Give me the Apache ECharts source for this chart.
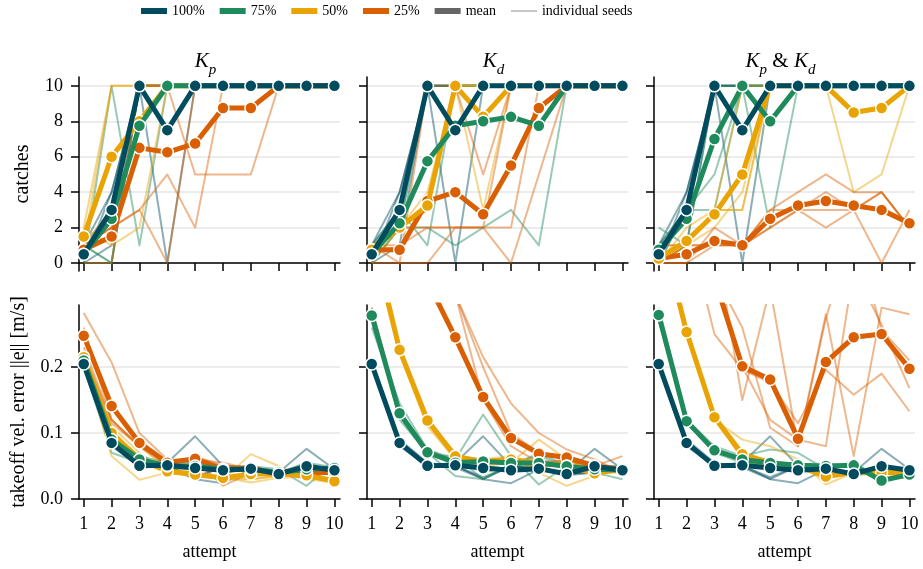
<!DOCTYPE html>
<html>
<head>
<meta charset="utf-8">
<script src="https://cdn.jsdelivr.net/npm/echarts@6/dist/echarts.min.js"></script>
<style>
  html, body { margin: 0; padding: 0; background: #fff; }
  #chart { width: 923px; height: 569px; }
</style>
</head>
<body>
<div id="chart"></div>
<script>
// catches / takeoff error per attempt, 4 seeds per condition
const attempts = [1, 2, 3, 4, 5, 6, 7, 8, 9, 10];
const levels = ['100%', '75%', '50%', '25%'];
const levelColors = ['#004b5e', '#1f8a5b', '#e9a302', '#d95f02'];
const catchTicks = [0, 2, 4, 6, 8, 10];
const errorTicks = [0, 0.1, 0.2];

// ---- catches (top row) ----
const catchMean100 = [0.5, 3.0, 10, 7.5, 10, 10, 10, 10, 10, 10];
const catchSeeds100 = [
  [0, 4, 10, 0, 10, 10, 10, 10, 10, 10],
  [1, 4, 10, 10, 10, 10, 10, 10, 10, 10],
  [1, 3, 10, 10, 10, 10, 10, 10, 10, 10],
  [0, 1, 10, 10, 10, 10, 10, 10, 10, 10]
];

const kpCatchMean75 = [0.5, 2.5, 7.75, 10, 10, 10, 10, 10, 10, 10];
const kpCatchSeeds75 = [
  [0, 10, 1, 10, 10, 10, 10, 10, 10, 10],
  [1, 0, 10, 10, 10, 10, 10, 10, 10, 10],
  [1, 0, 10, 10, 10, 10, 10, 10, 10, 10],
  [0, 0, 10, 10, 10, 10, 10, 10, 10, 10]
];
const kpCatchMean50 = [1.5, 6.0, 8.0, 10, 10, 10, 10, 10, 10, 10];
const kpCatchSeeds50 = [
  [1, 10, 10, 10, 10, 10, 10, 10, 10, 10],
  [2, 10, 10, 10, 10, 10, 10, 10, 10, 10],
  [2, 1, 2, 10, 10, 10, 10, 10, 10, 10],
  [1, 3, 10, 10, 10, 10, 10, 10, 10, 10]
];
const kpCatchMean25 = [0.75, 1.5, 6.5, 6.25, 6.75, 8.75, 8.75, 10, 10, 10];
const kpCatchSeeds25 = [
  [1, 2, 3, 5, 2, 10, 10, 10, 10, 10],
  [0, 0, 10, 10, 5, 5, 5, 10, 10, 10],
  [1, 2, 10, 10, 10, 10, 10, 10, 10, 10],
  [1, 2, 3, 0, 10, 10, 10, 10, 10, 10]
];

const kdCatchMean75 = [0.5, 2.25, 5.75, 7.75, 8.0, 8.25, 7.75, 10, 10, 10];
const kdCatchSeeds75 = [
  [1, 3, 1, 10, 10, 10, 10, 10, 10, 10],
  [1, 2, 2, 1, 2, 3, 1, 10, 10, 10],
  [0, 2, 10, 10, 10, 10, 10, 10, 10, 10],
  [0, 2, 10, 10, 10, 10, 10, 10, 10, 10]
];
const kdCatchMean50 = [0.75, 2.0, 3.25, 10, 8.25, 10, 10, 10, 10, 10];
const kdCatchSeeds50 = [
  [1, 2, 3, 10, 10, 10, 10, 10, 10, 10],
  [1, 2, 3, 10, 3, 10, 10, 10, 10, 10],
  [1, 2, 3, 10, 10, 10, 10, 10, 10, 10],
  [0, 2, 4, 10, 10, 10, 10, 10, 10, 10]
];
const kdCatchMean25 = [0.75, 0.75, 3.5, 4.0, 2.75, 5.5, 8.75, 10, 10, 10];
const kdCatchSeeds25 = [
  [1, 0, 0, 2, 2, 2, 10, 10, 10, 10],
  [1, 1, 2, 2, 2, 10, 10, 10, 10, 10],
  [1, 2, 2, 2, 2, 0, 5, 10, 10, 10],
  [0, 0, 10, 10, 5, 10, 10, 10, 10, 10]
];

const kpkdCatchMean75 = [0.75, 2.5, 7.0, 10, 8.0, 10, 10, 10, 10, 10];
const kpkdCatchSeeds75 = [
  [2, 1, 10, 10, 10, 10, 10, 10, 10, 10],
  [0, 3, 5, 10, 2, 10, 10, 10, 10, 10],
  [1, 3, 3, 10, 10, 10, 10, 10, 10, 10],
  [0, 3, 10, 10, 10, 10, 10, 10, 10, 10]
];
const kpkdCatchMean50 = [0.25, 1.25, 2.75, 5.0, 10, 10, 10, 8.5, 8.75, 10];
const kpkdCatchSeeds50 = [
  [0, 2, 3, 3, 10, 10, 10, 4, 5, 10],
  [0, 1, 2, 4, 10, 10, 10, 10, 10, 10],
  [1, 1, 3, 3, 10, 10, 10, 10, 10, 10],
  [0, 1, 3, 10, 10, 10, 10, 10, 10, 10]
];
const kpkdCatchMean25 = [0.25, 0.5, 1.25, 1.0, 2.5, 3.25, 3.5, 3.25, 3.0, 2.25];
const kpkdCatchSeeds25 = [
  [0, 0, 2, 1, 3, 4, 5, 4, 4, 2],
  [0, 1, 1, 1, 2, 3, 2, 3, 4, 2],
  [1, 1, 1, 1, 3, 3, 4, 3, 4, 2],
  [0, 0, 1, 1, 2, 3, 3, 3, 0, 3]
];

// ---- takeoff velocity error (bottom row) ----
const errMean100 = [0.2045, 0.085, 0.0505, 0.051, 0.047, 0.0435, 0.046, 0.038, 0.0495, 0.0435];
const errSeeds100 = [
  [0.21, 0.08, 0.05, 0.055, 0.095, 0.05, 0.045, 0.04, 0.076, 0.045],
  [0.2, 0.09, 0.055, 0.048, 0.03, 0.024, 0.045, 0.036, 0.04, 0.042],
  [0.205, 0.085, 0.048, 0.05, 0.033, 0.05, 0.048, 0.038, 0.042, 0.044],
  [0.203, 0.085, 0.049, 0.051, 0.03, 0.05, 0.046, 0.038, 0.04, 0.043]
];

const kpErrMean75 = [0.21, 0.09, 0.06, 0.05, 0.05, 0.045, 0.045, 0.04, 0.045, 0.047];
const kpErrSeeds75 = [
  [0.2, 0.07, 0.055, 0.045, 0.045, 0.045, 0.05, 0.045, 0.02, 0.055],
  [0.22, 0.1, 0.065, 0.055, 0.055, 0.05, 0.04, 0.04, 0.055, 0.04],
  [0.21, 0.09, 0.06, 0.05, 0.05, 0.04, 0.045, 0.038, 0.05, 0.045],
  [0.21, 0.1, 0.06, 0.05, 0.05, 0.045, 0.045, 0.037, 0.055, 0.048]
];
const kpErrMean50 = [0.215, 0.1, 0.06, 0.042, 0.037, 0.032, 0.038, 0.038, 0.036, 0.027];
const kpErrSeeds50 = [
  [0.21, 0.065, 0.029, 0.04, 0.035, 0.03, 0.068, 0.05, 0.03, 0.025],
  [0.22, 0.12, 0.08, 0.045, 0.04, 0.03, 0.03, 0.035, 0.04, 0.03],
  [0.215, 0.11, 0.07, 0.04, 0.035, 0.035, 0.03, 0.035, 0.04, 0.027],
  [0.215, 0.105, 0.06, 0.043, 0.038, 0.033, 0.025, 0.032, 0.034, 0.026]
];
const kpErrMean25 = [0.2475, 0.141, 0.085, 0.055, 0.061, 0.045, 0.045, 0.04, 0.04, 0.04];
const kpErrSeeds25 = [
  [0.282, 0.207, 0.1, 0.06, 0.06, 0.02, 0.04, 0.04, 0.03, 0.045],
  [0.26, 0.12, 0.08, 0.05, 0.065, 0.05, 0.05, 0.04, 0.045, 0.04],
  [0.23, 0.12, 0.08, 0.055, 0.06, 0.05, 0.045, 0.04, 0.045, 0.038],
  [0.22, 0.115, 0.08, 0.055, 0.06, 0.055, 0.045, 0.04, 0.04, 0.037]
];

const kdErrMean75 = [0.278, 0.13, 0.0707, 0.055, 0.057, 0.0545, 0.0545, 0.0495, 0.045, 0.044];
const kdErrSeeds75 = [
  [0.26, 0.145, 0.075, 0.06, 0.128, 0.065, 0.022, 0.05, 0.04, 0.03],
  [0.29, 0.13, 0.07, 0.035, 0.03, 0.05, 0.06, 0.05, 0.045, 0.05],
  [0.28, 0.12, 0.07, 0.06, 0.04, 0.05, 0.07, 0.05, 0.05, 0.05],
  [0.28, 0.125, 0.067, 0.065, 0.03, 0.053, 0.066, 0.048, 0.045, 0.046]
];
const kdErrMean50 = [0.4, 0.226, 0.119, 0.0646, 0.057, 0.06, 0.055, 0.05, 0.039, 0.045];
const kdErrSeeds50 = [
  [0.42, 0.23, 0.12, 0.07, 0.05, 0.055, 0.09, 0.06, 0.04, 0.04],
  [0.38, 0.22, 0.11, 0.06, 0.06, 0.065, 0.04, 0.02, 0.035, 0.05],
  [0.4, 0.23, 0.125, 0.065, 0.058, 0.06, 0.045, 0.06, 0.04, 0.045],
  [0.4, 0.224, 0.121, 0.064, 0.06, 0.06, 0.045, 0.06, 0.041, 0.045]
];
const kdErrMean25 = [0.5, 0.42, 0.33, 0.245, 0.1545, 0.0924, 0.0687, 0.063, 0.05, 0.045];
const kdErrSeeds25 = [
  [0.29, 0.13, 0.075, 0.055, 0.05, 0.045, 0.05, 0.06, 0.05, 0.065],
  [0.6, 0.5, 0.4, 0.31, 0.215, 0.145, 0.1, 0.075, 0.06, 0.04],
  [0.6, 0.5, 0.4, 0.31, 0.2, 0.1, 0.07, 0.06, 0.05, 0.04],
  [0.55, 0.5, 0.38, 0.31, 0.15, 0.08, 0.055, 0.06, 0.045, 0.04]
];

const kpkdErrMean75 = [0.279, 0.118, 0.0737, 0.06, 0.0545, 0.051, 0.05, 0.051, 0.028, 0.037];
const kpkdErrSeeds75 = [
  [0.27, 0.12, 0.08, 0.065, 0.075, 0.07, 0.045, 0.055, 0.03, 0.035],
  [0.29, 0.12, 0.075, 0.06, 0.05, 0.045, 0.05, 0.05, 0.025, 0.04],
  [0.28, 0.115, 0.07, 0.06, 0.045, 0.045, 0.052, 0.05, 0.03, 0.036],
  [0.276, 0.117, 0.07, 0.055, 0.048, 0.044, 0.053, 0.049, 0.027, 0.037]
];
const kpkdErrMean50 = [0.42, 0.253, 0.124, 0.068, 0.055, 0.05, 0.034, 0.04, 0.04, 0.04];
const kpkdErrSeeds50 = [
  [0.43, 0.26, 0.12, 0.09, 0.08, 0.06, 0.022, 0.04, 0.04, 0.03],
  [0.41, 0.25, 0.13, 0.06, 0.05, 0.045, 0.04, 0.04, 0.04, 0.045],
  [0.42, 0.25, 0.125, 0.06, 0.045, 0.045, 0.037, 0.04, 0.04, 0.042],
  [0.42, 0.252, 0.121, 0.062, 0.045, 0.05, 0.037, 0.04, 0.04, 0.043]
];
const kpkdErrMean25 = [0.55, 0.45, 0.334, 0.201, 0.181, 0.0914, 0.2076, 0.245, 0.25, 0.1975];
const kpkdErrSeeds25 = [
  [0.6, 0.5, 0.4, 0.15, 0.32, 0.08, 0.28, 0.065, 0.29, 0.28],
  [0.5, 0.42, 0.25, 0.196, 0.176, 0.115, 0.196, 0.158, 0.19, 0.133],
  [0.55, 0.45, 0.35, 0.2, 0.12, 0.09, 0.08, 0.35, 0.264, 0.168],
  [0.55, 0.43, 0.34, 0.26, 0.108, 0.08, 0.274, 0.41, 0.256, 0.21]
];

const panels = [
  { means: [catchMean100, kpCatchMean75, kpCatchMean50, kpCatchMean25], seeds: [catchSeeds100, kpCatchSeeds75, kpCatchSeeds50, kpCatchSeeds25] },
  { means: [catchMean100, kdCatchMean75, kdCatchMean50, kdCatchMean25], seeds: [catchSeeds100, kdCatchSeeds75, kdCatchSeeds50, kdCatchSeeds25] },
  { means: [catchMean100, kpkdCatchMean75, kpkdCatchMean50, kpkdCatchMean25], seeds: [catchSeeds100, kpkdCatchSeeds75, kpkdCatchSeeds50, kpkdCatchSeeds25] },
  { means: [errMean100, kpErrMean75, kpErrMean50, kpErrMean25], seeds: [errSeeds100, kpErrSeeds75, kpErrSeeds50, kpErrSeeds25] },
  { means: [errMean100, kdErrMean75, kdErrMean50, kdErrMean25], seeds: [errSeeds100, kdErrSeeds75, kdErrSeeds50, kdErrSeeds25] },
  { means: [errMean100, kpkdErrMean75, kpkdErrMean50, kpkdErrMean25], seeds: [errSeeds100, kpkdErrSeeds75, kpkdErrSeeds50, kpkdErrSeeds25] }
];

const FONT = 'Liberation Serif';
const colLeft = [79, 367, 654];
const rowTop = [77, 305];
const gridW = 261, gridH = 194;

const pts = vals => attempts.map((a, i) => [a, vals[i]]);

const grids = [], xAxes = [], yAxes = [], series = [];
for (let gi = 0; gi < 6; gi++) {
  const row = Math.floor(gi / 3), col = gi % 3;
  grids.push({ left: colLeft[col], top: rowTop[row], width: gridW, height: gridH });
  xAxes.push({
    gridIndex: gi, type: 'value', min: 0.83, max: 10.2,
    axisLine: { lineStyle: { color: '#000', width: 1.5 } },
    axisTick: { customValues: attempts, length: 8, lineStyle: { color: '#000', width: 1.5 } },
    axisLabel: { show: row === 1, customValues: attempts, fontFamily: FONT, fontSize: 18, color: '#000', margin: 16 },
    splitLine: { show: false },
    name: row === 1 ? 'attempt' : '', nameLocation: 'middle', nameGap: 44,
    nameTextStyle: { fontFamily: FONT, fontSize: 18, color: '#000' }
  });
  const ticks = row === 0 ? catchTicks : errorTicks;
  yAxes.push({
    gridIndex: gi, type: 'value',
    min: row === 0 ? -0.45 : 0, max: row === 0 ? 10.5 : 0.294,
    axisLine: { show: true, lineStyle: { color: '#000', width: 1.5 } },
    axisTick: { show: true, customValues: ticks, length: 8, lineStyle: { color: '#000', width: 1.5 } },
    axisLabel: {
      show: col === 0, customValues: ticks, fontFamily: FONT, fontSize: 18, color: '#000', margin: 16,
      formatter: v => row === 0 ? String(v) : v.toFixed(1)
    },
    splitLine: { show: true, lineStyle: { color: '#e6e6e6', width: 1.5 } },
    name: col === 0 ? (row === 0 ? 'catches' : 'takeoff vel. error ||e|| [m/s]') : '',
    nameLocation: 'middle', nameGap: row === 0 ? 46 : 50,
    nameTextStyle: { fontFamily: FONT, fontSize: 20, color: '#000' }
  });

  const p = panels[gi];
  levels.forEach((lv, li) => {
    p.seeds[li].forEach(s => series.push({
      type: 'line', name: 'seed ' + lv, xAxisIndex: gi, yAxisIndex: gi,
      data: pts(s), symbol: 'none', silent: true, z: 2,
      lineStyle: { color: levelColors[li], width: 2, opacity: 0.45, join: 'round' }
    }));
  });
  levels.forEach((lv, li) => series.push({
    type: 'line', name: lv, xAxisIndex: gi, yAxisIndex: gi,
    data: pts(p.means[li]), symbol: 'circle', symbolSize: 12, z: 10 - li,
    itemStyle: { color: levelColors[li], borderColor: '#fff', borderWidth: 1.5 },
    lineStyle: { color: levelColors[li], width: 5, join: 'round' }
  }));
}
// legend-only entries
series.push({ type: 'line', name: 'mean', data: [], xAxisIndex: 0, yAxisIndex: 0, itemStyle: { color: '#666' } });
series.push({ type: 'line', name: 'individual seeds', data: [], xAxisIndex: 0, yAxisIndex: 0, itemStyle: { color: '#b5b5b5' } });

const titleRich = {
  k: { fontFamily: FONT, fontStyle: 'italic', fontSize: 21, lineHeight: 28, verticalAlign: 'top', fill: '#000' },
  s: { fontFamily: FONT, fontStyle: 'italic', fontSize: 15, lineHeight: 15, padding: [12, 0, 0, 0], verticalAlign: 'top', fill: '#000' },
  n: { fontFamily: FONT, fontSize: 21, lineHeight: 28, verticalAlign: 'top', fill: '#000' }
};
const titles = ['{k|K}{s|p}', '{k|K}{s|d}', '{k|K}{s|p}{n| & }{k|K}{s|d}'];

const chart = echarts.init(document.getElementById('chart'));
chart.setOption({
  animation: false,
  backgroundColor: '#fff',
  legend: {
    left: 141, top: 4, padding: 0,
    itemWidth: 26, itemHeight: 6, itemGap: 15,
    textStyle: { fontFamily: FONT, fontSize: 14, color: '#000', padding: [0, 0, 0, 0] },
    selectedMode: false,
    data: [
      ...levels.map((lv, li) => ({ name: lv, icon: 'rect', itemStyle: { color: levelColors[li], borderWidth: 0 } })),
      { name: 'mean', icon: 'rect', itemStyle: { color: '#666', borderWidth: 0 } },
      { name: 'individual seeds', icon: 'path://M0,0h0.01v6h-0.01z M0,2.2h26v1.6h-26z M25.99,0h0.01v6h-0.01z', itemStyle: { color: '#b5b5b5', borderWidth: 0 } }
    ]
  },
  graphic: titles.map((t, i) => ({
    type: 'text', x: colLeft[i] + gridW / 2 - 4, y: 65,
    style: { text: t, rich: titleRich, align: 'center', verticalAlign: 'middle' }
  })),
  grid: grids,
  xAxis: xAxes,
  yAxis: yAxes,
  series: series
});
</script>
</body>
</html>
